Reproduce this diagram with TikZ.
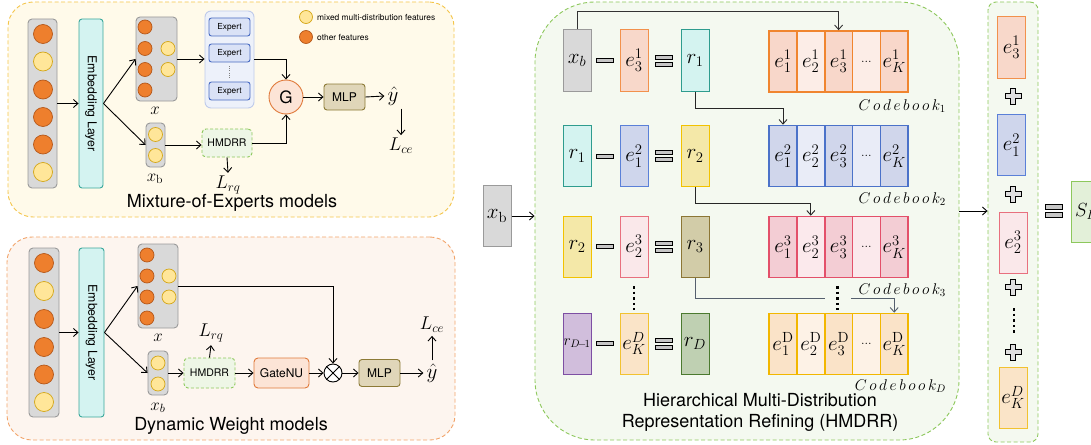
\RequirePackage{fix-cm}
\documentclass[tikz,border=0pt]{standalone}
\usepackage{fontspec}
\setsansfont{TeX Gyre Heros}
\usetikzlibrary{arrows.meta,calc}
\definecolor{orF}{HTML}{EE7F2D}\definecolor{orS}{HTML}{B5581A}
\definecolor{yeF}{HTML}{FFE699}\definecolor{yeS}{HTML}{D4A617}
\definecolor{grF}{HTML}{D9D9D9}\definecolor{grS}{HTML}{9A9A9A}
\definecolor{emF}{HTML}{D4F3F1}\definecolor{emS}{HTML}{3AA89B}
\definecolor{moeF}{HTML}{FFFAEA}\definecolor{moeS}{HTML}{F4C54A}
\definecolor{dwF}{HTML}{FDF5EF}\definecolor{dwS}{HTML}{F2A46A}
\definecolor{hmF}{HTML}{F4F9F0}\definecolor{hmS}{HTML}{8DC85C}
\definecolor{hbF}{HTML}{EEF6E6}
\definecolor{mlpF}{HTML}{E0D6B9}\definecolor{mlpS}{HTML}{8C7A36}
\definecolor{gF}{HTML}{FCE4D6}\definecolor{gS}{HTML}{E0793A}
\definecolor{exF}{HTML}{EDF1FA}\definecolor{exS}{HTML}{BFCBEB}
\definecolor{eiF}{HTML}{DAE2F6}\definecolor{eiS}{HTML}{4A6CC2}
\definecolor{peF}{HTML}{F8D8CA}\definecolor{peS}{HTML}{F2914C}
\definecolor{cyF}{HTML}{D4F3F0}\definecolor{cyS}{HTML}{2E9C8E}
\definecolor{blF}{HTML}{CFD6EC}\definecolor{blS}{HTML}{5A80D8}
\definecolor{ywF}{HTML}{F4E8A8}\definecolor{ywS}{HTML}{F2C200}
\definecolor{pkF}{HTML}{FAE8EA}\definecolor{pkS}{HTML}{E8707E}
\definecolor{olF}{HTML}{D2CCA8}\definecolor{olS}{HTML}{8C7635}
\definecolor{puF}{HTML}{D1BEDC}\definecolor{puS}{HTML}{7D4FA3}
\definecolor{apF}{HTML}{FAE4C8}\definecolor{apS}{HTML}{F2C230}
\definecolor{gnF}{HTML}{BFD0B2}\definecolor{gnS}{HTML}{4B7A2F}
\definecolor{cAS}{HTML}{F0852F}\definecolor{cAD}{HTML}{F8D7CA}\definecolor{cAL}{HTML}{FCEDE7}
\definecolor{cBS}{HTML}{4B72C9}\definecolor{cBD}{HTML}{D0D6EB}\definecolor{cBL}{HTML}{E9ECF7}
\definecolor{cCS}{HTML}{E3506A}\definecolor{cCD}{HTML}{F3CDD4}\definecolor{cCL}{HTML}{FBE9EC}
\definecolor{cDS}{HTML}{F2B700}\definecolor{cDD}{HTML}{FAE3C8}\definecolor{cDL}{HTML}{FDF2E6}
\definecolor{slF}{HTML}{E3F0D9}
\definecolor{lnG}{HTML}{55606E}
\newcommand\cbrow[6]{%
 \node[cell,draw=#3,fill=#4] (#1a) at (783,#2) {$e_1^{#6}$};
 \node[cell,draw=#3,fill=#5] (#1b) at (810.8,#2) {$e_2^{#6}$};
 \node[cell,draw=#3,fill=#4] (#1c) at (838.6,#2) {$e_3^{#6}$};
 \node[cell,draw=#3,fill=#5] (#1d) at (866.4,#2) {\fontsize{13}{14}\selectfont ...};
 \node[cell,draw=#3,fill=#4] (#1e) at (894.2,#2) {$e_K^{#6}$};
}
\begin{document}
\begin{tikzpicture}[x=1pt,y=-1pt,
  arr/.style={line width=0.9pt, -{Straight Barb[length=4.5pt,width=8pt]}},
  ln/.style={line width=0.9pt},
  panel/.style={rectangle, dash pattern=on 4pt off 2.5pt, line width=0.9pt, inner sep=0},
  graycol/.style={rectangle, draw=grS, fill=grF, line width=0.9pt, rounded corners=4pt, inner sep=0},
  odot/.style={circle, draw=orS, fill=orF, line width=0.7pt, inner sep=0},
  ydot/.style={circle, draw=yeS, fill=yeF, line width=0.7pt, inner sep=0},
  embed/.style={rectangle, draw=emS, fill=emF, line width=0.9pt, rounded corners=3pt, minimum width=24pt, minimum height=169pt, inner sep=0, font=\sffamily\fontsize{12.3}{14}\selectfont},
  sbox/.style={rectangle, line width=0.9pt, rounded corners=4pt, inner sep=0, font=\sffamily\fontsize{12}{14}\selectfont},
  hbox/.style={sbox, draw=hmS, fill=hbF, dash pattern=on 3pt off 2pt, font=\sffamily\fontsize{10.5}{12}\selectfont},
  vbox/.style={rectangle, line width=1pt, minimum width=28pt, minimum height=61pt, inner sep=0, font=\fontsize{21}{23}\selectfont},
  cell/.style={rectangle, line width=1.6pt, minimum width=27.8pt, minimum height=61pt, inner sep=0, font=\fontsize{21}{23}\selectfont},
  bar/.style={rectangle, draw=black, fill=gray!45, line width=0.7pt, minimum width=17pt, minimum height=4pt, inner sep=0},
  mlab/.style={inner sep=1pt, font=\fontsize{17}{19}\selectfont},
  llab/.style={inner sep=3pt, font=\fontsize{18.5}{20}\selectfont},
  title/.style={inner sep=0, align=center, font=\sffamily\fontsize{18}{21}\selectfont},
  cblab/.style={anchor=east, inner sep=0, font=\fontsize{15.5}{17}\selectfont},
  plussym/.pic={\draw[fill=gray!25, line width=0.8pt] (-2.2,-8) -- (2.2,-8) -- (2.2,-2.2) -- (8,-2.2) -- (8,2.2) -- (2.2,2.2) -- (2.2,8) -- (-2.2,8) -- (-2.2,2.2) -- (-8,2.2) -- (-8,-2.2) -- (-2.2,-2.2) -- cycle;},
  vdots/.style={line width=2.6pt, dash pattern=on 2.6pt off 3pt}
]
\useasboundingbox (0,0) rectangle (1091,444);
\clip (0,0) rectangle (1091,444);

% ================= Mixture-of-Experts panel =================
\node[panel, draw=moeS, fill=moeF, minimum width=446pt, minimum height=215pt, rounded corners=25pt] (moe) at (231,109.5) {};
\node[graycol, minimum width=29pt, minimum height=169pt] (in1) at (42.5,103.5) {};
\foreach \y/\s [count=\i] in {34/odot,61.5/ydot,89.5/odot,117/odot,144.5/odot,172/ydot}
  \node[\s, minimum size=19pt] (a\i) at (43,\y) {};
\node[embed] (emb1) at (91,103.5) {\rotatebox{-90}{Embedding Layer}};
\node[graycol, minimum width=41pt, minimum height=84pt] (xbox1) at (156.5,59) {};
\foreach \x/\y/\s [count=\i] in {145/27/odot,145/48.5/odot,145/69.5/odot,145/90/odot,168/48.5/ydot,168/69.5/ydot}
  \node[\s, minimum size=14pt] (b\i) at (\x,\y) {};
\node[mlab] (xl1) at (155,111) {$x$};
\node[graycol, minimum width=19pt, minimum height=44pt] (xb1) at (155.5,145) {};
\node[ydot, minimum size=14pt] (c1) at (155.5,134.5) {};
\node[ydot, minimum size=14pt] (c2) at (155.5,155.5) {};
\node[mlab] (xbl1) at (155,179) {$x_{\mathrm{b}}$};
\node[sbox, draw=exS, fill=exF, minimum width=49pt, minimum height=97pt, rounded corners=6pt] (expbox) at (229.5,59.5) {};
\foreach \y [count=\i] in {27,53,91}
  \node[sbox, draw=eiS, fill=eiF, minimum width=41pt, minimum height=18pt, rounded corners=2.5pt, font=\sffamily\fontsize{8.3}{9}\selectfont] (ex\i) at (229.5,\y) {Expert};
\draw[gray, line width=0.6pt, dash pattern=on 1pt off 1.2pt] (ex2.south |- 0,66) -- (ex2.south |- 0,78);
\node[circle, draw=gS, fill=gF, line width=0.9pt, minimum size=34pt, inner sep=0, font=\sffamily\fontsize{17}{18}\selectfont] (G) at (286,97) {G};
\node[sbox, draw=mlpS, fill=mlpF, minimum width=41pt, minimum height=26pt, rounded corners=3pt] (mlp1) at (344.5,97) {MLP};
\node[inner sep=3pt, font=\fontsize{21}{23}\selectfont] (yh1) at (393,96) {$\hat{y}$};
\node[llab] (lce1) at (401,146) {$L_{ce}$};
\node[hbox, minimum width=50pt, minimum height=28pt] (hm1) at (227,143) {HMDRR};
\node[llab] (lrq1) at (228,185) {$L_{rq}$};
% legend
\node[ydot, minimum size=13pt] (lg1) at (306,17) {};
\node[odot, minimum size=13pt] (lg2) at (306,37) {};
\node[anchor=west, inner sep=0, font=\sffamily\fontsize{8.4}{9}\selectfont] (lt1) at (317,17) {mixed multi-distribution features};
\node[anchor=west, inner sep=0, font=\sffamily\fontsize{8.4}{9}\selectfont] (lt2) at (317,37) {other features};
\node[title] (t1) at (232,203) {Mixture-of-Experts models};
% connectors
\draw[arr] (in1.east) -- (emb1.west);
\draw[arr] (emb1.east) -- (xbox1.west);
\draw[arr] (emb1.east) -- (xb1.west);
\draw[arr] (xbox1.east) -- (xbox1.east -| expbox.west);
\draw[arr] (xb1.east) -- (xb1.east -| hm1.west);
\draw[arr] (expbox.east) -| (G.north);
\draw[arr] (hm1.east) -| (G.south);
\draw[arr] (G.east) -- (mlp1.west);
\draw[arr] (mlp1.east) -- (yh1.west);
\draw[arr] (lce1.north |- yh1.south) -- (lce1.north);
\draw[arr] (hm1.south) -- (lrq1.north);

% ================= Dynamic Weight panel =================
\node[panel, draw=dwS, fill=dwF, minimum width=448pt, minimum height=203pt, rounded corners=25pt] (dw) at (231,338.5) {};
\node[graycol, minimum width=30pt, minimum height=169pt] (in2) at (44,332.5) {};
\foreach \y/\s [count=\i] in {263/odot,291/ydot,319/odot,347/odot,374.5/odot,402/ydot}
  \node[\s, minimum size=19pt] (d\i) at (44,\y) {};
\node[embed, minimum width=25pt] (emb2) at (91.5,332.5) {\rotatebox{-90}{Embedding Layer}};
\node[graycol, minimum width=40pt, minimum height=84pt] (xbox2) at (158,286) {};
\foreach \x/\y/\s [count=\i] in {147/255/odot,147/276/odot,147/297/odot,147/318/odot,169/276/ydot,169/297/ydot}
  \node[\s, minimum size=14pt] (f\i) at (\x,\y) {};
\node[mlab] (xl2) at (158,338) {$x$};
\node[graycol, minimum width=20pt, minimum height=44pt] (xb2) at (158,373) {};
\node[ydot, minimum size=14pt] (g1) at (158,363) {};
\node[ydot, minimum size=14pt] (g2) at (158,384) {};
\node[mlab] (xbl2) at (158,408) {$x_b$};
\node[hbox, minimum width=51pt, minimum height=30pt] (hm2) at (209.5,373) {HMDRR};
\node[llab] (lrq2) at (211,333) {$L_{rq}$};
\node[sbox, draw=gS, fill=gF, minimum width=55pt, minimum height=30pt] (gate) at (281.5,373) {GateNU};
\node[circle, draw=black, fill=white, line width=0.9pt, minimum size=18pt, inner sep=0] (ot) at (333,373) {};
\draw[line width=0.9pt] (ot.north east) -- (ot.south west) (ot.north west) -- (ot.south east);
\node[sbox, draw=mlpS, fill=mlpF, minimum width=41pt, minimum height=27pt, rounded corners=3pt] (mlp2) at (379.5,373) {MLP};
\node[inner sep=3pt, font=\fontsize{21}{23}\selectfont] (yh2) at (432,373) {$\hat{y}$};
\node[llab] (lce2) at (432,325) {$L_{ce}$};
\node[title] (t2) at (231,426) {Dynamic Weight models};
\draw[arr] (in2.east) -- (emb2.west);
\draw[arr] (emb2.east) -- (xbox2.west);
\draw[arr] (emb2.east) -- (xb2.west);
\draw[arr] (xb2.east) -- (hm2.west);
\draw[arr] (hm2.north) -- (lrq2.south);
\draw[arr] (hm2.east) -- (gate.west);
\draw[arr] (gate.east) -- (ot.west);
\draw[arr] (xbox2.east) -| (ot.north);
\draw[arr] (ot.east) -- (mlp2.west);
\draw[arr] (mlp2.east) -- (yh2.west);
\draw[arr] (yh2.north) -- (lce2.south);

% ================= HMDRR panel =================
\node[vbox, draw=grS, fill=grF] (xbo) at (497,216) {$x_{\mathrm{b}}$};
\node[panel, draw=hmS, fill=hmF, minimum width=424pt, minimum height=438pt, rounded corners=60pt] (hm) at (747,221) {};
\draw[arr] (xbo.east) -- (xbo.east -| hm.west);
% rows
\node[vbox, draw=grS, fill=grF] (xbm) at (577,60.5) {$x_b$};
\node[vbox, draw=peS, fill=peF] (e31) at (634,60.5) {$e_3^1$};
\node[vbox, draw=cyS, fill=cyF] (r1) at (695,60.5) {$r_1$};
\node[vbox, draw=cyS, fill=cyF] (r1b) at (577,156) {$r_1$};
\node[vbox, draw=blS, fill=blF] (e12) at (634,156) {$e_1^2$};
\node[vbox, draw=ywS, fill=ywF] (r2) at (695,156) {$r_2$};
\node[vbox, draw=ywS, fill=ywF] (r2b) at (577,246.5) {$r_2$};
\node[vbox, draw=pkS, fill=pkF] (e23) at (634,246.5) {$e_2^3$};
\node[vbox, draw=olS, fill=olF] (r3) at (695,246.5) {$r_3$};
\node[vbox, draw=puS, fill=puF, font=\fontsize{15.5}{16}\selectfont] (rD1) at (577,343.5) {$r_{D\!-\!1}$};
\node[vbox, draw=apS, fill=apF] (eKD) at (634,343.5) {$e_K^D$};
\node[vbox, draw=gnS, fill=gnF] (rD) at (695,343.5) {$r_D$};
\foreach \y [count=\i] in {60.5,156,246.5,343.5} {
  \node[bar] (mi\i) at (605,\y) {};
  \node[bar] (eqa\i) at (664,\y-3.5) {};
  \node[bar] (eqb\i) at (664,\y+3.5) {};
}
\draw[vdots] (634,286) -- (634,310);
% codebooks
\cbrow{cbA}{61.5}{cAS}{cAD}{cAL}{1}
\cbrow{cbB}{156}{cBS}{cBD}{cBL}{2}
\cbrow{cbC}{247}{cCS}{cCD}{cCL}{3}
\cbrow{cbD}{344}{cDS}{cDD}{cDL}{\mathrm{D}}
\node[cblab] (cl1) at (946,106) {$C\,o\,d\,e\,b\,o\,o\,k_1$};
\node[cblab] (cl2) at (946,199) {$C\,o\,d\,e\,b\,o\,o\,k_2$};
\node[cblab] (cl3) at (946,290) {$C\,o\,d\,e\,b\,o\,o\,k_3$};
\node[cblab] (cl4) at (946,386) {$C\,o\,d\,e\,b\,o\,o\,k_D$};
% connectors
\draw[arr, draw=black!80] (xbm.north) -- ++(0,-18) -| (cbAc.north);
\draw[arr, draw=black!85] (r1.south) -- ++(0,17) -| (cbBa.north);
\draw[arr, draw=black!85] (r2.south) -- ++(0,16) -| (cbCb.north);
\coordinate (g1) at (825,298);
\coordinate (g2) at (851,298);
\draw[ln, draw=lnG] (r3.south) |- (g1);
\draw[arr, draw=lnG] (g2) -| (cbDe.north);
\draw[vdots] (837.5,286) -- (837.5,310);
\node[title] (t3) at (760,412) {Hierarchical Multi-Distribution\\Representation Refining (HMDRR)};

% ================= right panel =================
\node[panel, draw=hmS, fill=hmF, minimum width=50pt, minimum height=440pt, rounded corners=8pt] (rp) at (1013,222) {};
\coordinate (eqc) at (1053.5,211);
\draw[arr] (hm.east |- eqc) -- (rp.west |- eqc);
\node[vbox, draw=peS, fill=peF] (s1) at (1011.5,47.5) {$e_3^1$};
\node[vbox, draw=blS, fill=blF] (s2) at (1011.5,145) {$e_1^2$};
\node[vbox, draw=pkS, fill=pkF] (s3) at (1013,242.5) {$e_2^3$};
\node[vbox, draw=apS, fill=apF] (s4) at (1013,397.5) {$e_K^D$};
\pic at (1013,96) {plussym};
\pic at (1013,194) {plussym};
\pic at (1013,287) {plussym};
\pic at (1013,352) {plussym};
\draw[vdots] (1014,308) -- (1014,334);
\node[bar, minimum width=17pt, minimum height=4.5pt] (qa) at (eqc |- 0,207) {};
\node[bar, minimum width=17pt, minimum height=4.5pt] (qb) at (eqc |- 0,215) {};
\node[vbox, draw=hmS, fill=slF, minimum width=40pt] (slb) at (1091,211.5) {};
\node[anchor=west, inner sep=0, font=\fontsize{19}{21}\selectfont] (sl) at (1075,211.5) {$S_L$};
\end{tikzpicture}
\end{document}
